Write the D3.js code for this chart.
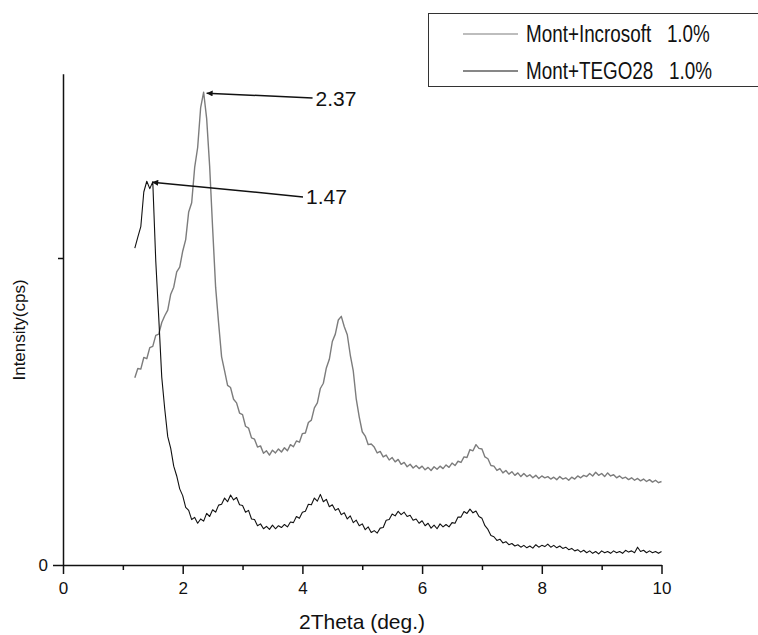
<!DOCTYPE html>
<html>
<head>
<meta charset="utf-8">
<script src="https://cdn.jsdelivr.net/npm/d3@7"></script>
<style>
  body { margin: 0; background: #fff; }
  text { font-family: Arial, "Liberation Sans", sans-serif; fill: #111; }
</style>
</head>
<body>
<div id="chart"></div>
<script>
var svgWidth = 758;
var svgHeight = 635;

// scan grid (deg 2theta) : start + step, one value per sample below
var twoThetaStart = 1.2;
var twoThetaStep = 0.05;

// Mont+Incrosoft 1.0% (grey trace), cps
var incrosoft = [
  610, 640, 638, 676, 672, 708, 712, 748, 752, 790,
  812, 830, 882, 905, 955, 970, 1022, 1060, 1150, 1180,
  1295, 1360, 1490, 1540, 1455, 1300, 1098, 905, 788, 678,
  632, 585, 578, 540, 528, 495, 490, 452, 446, 414,
  410, 384, 388, 364, 372, 358, 374, 365, 378, 368,
  382, 372, 392, 385, 404, 400, 428, 430, 464, 472,
  512, 528, 575, 592, 642, 670, 728, 752, 798, 810,
  776, 750, 684, 632, 540, 482, 434, 420, 392, 394,
  384, 365, 370, 352, 358, 342, 350, 336, 344, 328,
  334, 320, 328, 316, 324, 314, 322, 310, 318, 308,
  320, 312, 322, 314, 326, 318, 332, 324, 338, 334,
  352, 350, 376, 372, 392, 380, 378, 352, 346, 324,
  322, 308, 314, 300, 308, 296, 304, 292, 300, 288,
  298, 288, 294, 284, 292, 282, 290, 284, 288, 280,
  286, 278, 288, 280, 284, 276, 286, 280, 290, 284,
  292, 288, 298, 290, 302, 292, 298, 288, 300, 290,
  294, 284, 290, 282, 286, 278, 284, 276, 282, 274,
  280, 272, 278, 270, 276, 268, 272
];

// Mont+TEGO28 1.0% (black trace)
var tego28 = [
  1032, 1068, 1102, 1215, 1250, 1226, 1248, 990, 805, 612,
  508, 418, 380, 322, 290, 248, 226, 188, 178, 148,
  155, 136, 150, 143, 168, 158, 180, 172, 195, 198,
  218, 206, 228, 212, 220, 196, 194, 172, 178, 150,
  148, 128, 134, 118, 126, 116, 130, 118, 128, 122,
  132, 124, 140, 138, 158, 152, 172, 175, 198, 196,
  218, 208, 230, 206, 214, 190, 196, 178, 184, 164,
  170, 150, 160, 138, 146, 128, 134, 115, 124, 106,
  112, 104, 120, 122, 146, 148, 166, 160, 175, 164,
  172, 158, 162, 146, 150, 136, 144, 128, 136, 120,
  130, 118, 134, 124, 132, 124, 138, 136, 156, 156,
  174, 168, 182, 170, 176, 158, 152, 128, 116, 96,
  92, 80, 84, 72, 76, 66, 70, 62, 66, 58,
  64, 56, 62, 55, 66, 58, 64, 60, 68, 58,
  64, 56, 62, 54, 58, 50, 54, 46, 50, 42,
  48, 40, 46, 38, 44, 36, 46, 40, 44, 38,
  46, 40, 44, 38, 48, 42, 46, 40, 58, 44,
  48, 40, 46, 40, 44, 38, 44
];

var seriesNames = ["Mont+Incrosoft   1.0%", "Mont+TEGO28   1.0%"];
var seriesColors = ["#7c7c7c", "#111111"];

var xTicks = [0, 2, 4, 6, 8, 10];
var xMinorTicks = [1, 3, 5, 7, 9];
var yTicks = [0];
var yMinorTicks = [1000];

// peak annotations: tip at the peak, label end of the leader line
var peakLabels = ["2.37", "1.47"];
var peakTips = [[2.40, 1537], [1.49, 1247]];
var peakLabelAt = [[4.17, 1521], [4.01, 1199]];

var margin = {top: 73.8, right: 96, bottom: 70, left: 63};

var svg = d3.select("#chart")
    .append("svg")
    .attr("width", svgWidth)
    .attr("height", svgHeight);

var scX = d3.scaleLinear()
    .domain([0, 10])
    .range([margin.left, svgWidth - margin.right - 0.5]);
var scY = d3.scaleLinear()
    .domain([0, 1600])
    .range([svgHeight - margin.bottom, margin.top]);

var grid = d3.range(incrosoft.length).map(i => twoThetaStart + i * twoThetaStep);

var line = d3.line()
    .x((d, i) => scX(grid[i]))
    .y(d => scY(d));

[incrosoft, tego28].forEach(function(s, k){
  svg.append("path")
      .datum(s)
      .attr("fill", "none")
      .attr("stroke", seriesColors[k])
      .attr("stroke-width", k == 0 ? 1.4 : 1.1)
      .attr("stroke-linejoin", "round")
      .attr("d", line);
});

// axes
var xAxis = svg.append("g")
    .attr("transform", `translate(0,${scY(0)})`)
    .call(d3.axisBottom(scX).tickValues(xTicks).tickSize(9).tickSizeOuter(0).tickPadding(8));
svg.append("g")
    .attr("transform", `translate(0,${scY(0)})`)
    .call(d3.axisBottom(scX).tickValues(xMinorTicks).tickSize(5).tickFormat(""))
    .select(".domain").remove();

var yAxis = svg.append("g")
    .attr("transform", `translate(${scX(0)},0)`)
    .call(d3.axisLeft(scY).tickValues(yTicks).tickSize(10).tickSizeOuter(0).tickPadding(5));
svg.append("g")
    .attr("transform", `translate(${scX(0)},0)`)
    .call(d3.axisLeft(scY).tickValues(yMinorTicks).tickSize(5).tickFormat(""))
    .select(".domain").remove();

svg.selectAll(".domain, .tick line")
    .attr("stroke", "#111")
    .attr("stroke-width", 1.5);
svg.selectAll(".tick text")
    .attr("font-size", 17)
    .attr("font-family", "Arial, 'Liberation Sans', sans-serif")
    .attr("fill", "#111");

// axis titles
svg.append("text")
    .attr("x", 362)
    .attr("y", 629)
    .attr("text-anchor", "middle")
    .attr("font-size", 21)
    .text("2Theta (deg.)");
svg.append("text")
    .attr("transform", "translate(25,330) rotate(-90)")
    .attr("text-anchor", "middle")
    .attr("font-size", 17)
    .text("Intensity(cps)");

// arrows
svg.append("defs").append("marker")
    .attr("id", "arr")
    .attr("viewBox", "0 0 10 10")
    .attr("refX", 10)
    .attr("refY", 5)
    .attr("markerWidth", 10)
    .attr("markerHeight", 6)
    .attr("markerUnits", "userSpaceOnUse")
    .attr("orient", "auto")
    .append("path")
    .attr("d", "M0,0L10,5L0,10Z")
    .attr("fill", "#111");

peakLabels.forEach(function(lab, i){
  svg.append("line")
      .attr("x1", scX(peakLabelAt[i][0]))
      .attr("y1", scY(peakLabelAt[i][1]))
      .attr("x2", scX(peakTips[i][0]))
      .attr("y2", scY(peakTips[i][1]))
      .attr("stroke", "#111")
      .attr("stroke-width", 1.5)
      .attr("marker-end", "url(#arr)");
  svg.append("text")
      .attr("x", scX(peakLabelAt[i][0]) + 3)
      .attr("y", scY(peakLabelAt[i][1]))
      .attr("dy", "0.36em")
      .attr("font-size", 21)
      .text(lab);
});

// legend
var legend = svg.append("g");
legend.append("rect")
    .attr("x", 428.5)
    .attr("y", 13.5)
    .attr("width", 360)
    .attr("height", 73)
    .attr("fill", "#fff")
    .attr("stroke", "#333")
    .attr("stroke-width", 1);

seriesNames.forEach(function(name, i){
  var ly = 34 + i * 37;
  legend.append("line")
      .attr("x1", 463)
      .attr("x2", 518)
      .attr("y1", ly)
      .attr("y2", ly)
      .attr("stroke", seriesColors[i])
      .attr("stroke-width", 1.2);
  legend.append("text")
      .attr("transform", `translate(526,${ly}) scale(0.82,1)`)
      .attr("dy", "0.36em")
      .attr("font-size", 23)
      .style("white-space", "pre")
      .text(name);
});
</script>
</body>
</html>
